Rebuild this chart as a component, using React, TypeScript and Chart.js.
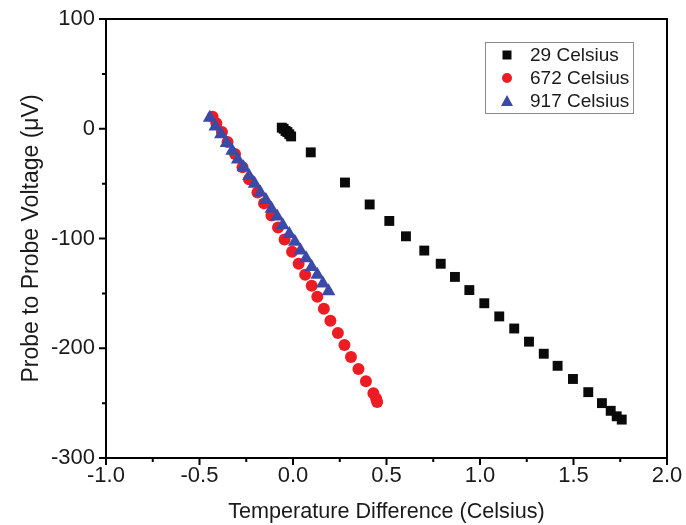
import React, { useEffect, useRef } from "react";
import { Chart, registerables } from "chart.js";

Chart.register(...registerables);

// ---- Data ----
const seriesLabels = ["29 Celsius", "672 Celsius", "917 Celsius"];

const blackX = [-0.06, -0.05, -0.04, -0.03, -0.02, -0.01, 0.095, 0.278, 0.41, 0.515, 0.604, 0.702, 0.79, 0.866, 0.943, 1.023, 1.103, 1.183, 1.262, 1.341, 1.415, 1.497, 1.579, 1.652, 1.699, 1.731, 1.758];
const blackY = [1, 0, -2, -3, -5, -7, -21.5, -49, -69, -84, -98, -111, -123, -135, -147, -159, -171, -182, -194, -205, -216, -228, -240, -250, -257, -262, -265];

const redX = [-0.43, -0.41, -0.38, -0.35, -0.31, -0.27, -0.235, -0.19, -0.155, -0.115, -0.08, -0.045, -0.005, 0.03, 0.065, 0.1, 0.13, 0.165, 0.2, 0.24, 0.275, 0.31, 0.35, 0.39, 0.43, 0.445, 0.45];
const redY = [11, 5, -3, -12, -23, -35, -46, -58, -68, -79, -90, -101, -112, -123, -133, -143, -153, -164, -175, -186, -197, -208, -219, -230, -241, -246, -249];

const blueX = [-0.445, -0.415, -0.385, -0.355, -0.325, -0.295, -0.265, -0.235, -0.205, -0.175, -0.145, -0.115, -0.085, -0.055, -0.02, 0.01, 0.04, 0.07, 0.1, 0.13, 0.16, 0.19];
const blueY = [10, 2, -5, -13, -20, -28, -35, -43, -50, -58, -65, -73, -80, -88, -96, -103, -111, -118, -126, -133, -141, -148];

const xMin = -1.0;
const xMax = 2.0;
const xStep = 0.5;
const yMin = -300;
const yMax = 100;
const yStep = 100;

const xTitle = "Temperature Difference (Celsius)";
const yTitle = "Probe to Probe Voltage (\u03bcV)";

const BLACK = "#0a0a0a";
const RED = "#ec1c24";
const BLUE = "#3a4aa6";

const FONT = '"Liberation Sans", Arial, Helvetica, sans-serif';

function toPoints(xs: number[], ys: number[]) {
  return xs.map((x, i) => ({ x, y: ys[i] }));
}

function drawMarker(ctx: CanvasRenderingContext2D, style: string, x: number, y: number, color: string) {
  ctx.fillStyle = color;
  ctx.beginPath();
  if (style === "rect") {
    ctx.rect(x - 4.5, y - 4.5, 9, 9);
  } else if (style === "circle") {
    ctx.arc(x, y, 5, 0, Math.PI * 2);
  } else {
    ctx.moveTo(x, y - 6);
    ctx.lineTo(x + 6, y + 5);
    ctx.lineTo(x - 6, y + 5);
    ctx.closePath();
  }
  ctx.fill();
}

const framePlugin = {
  id: "frameTicks",
  afterDatasetsDraw(chart: any) {
    const { ctx, chartArea: a, scales } = chart;
    const xs = scales.x;
    const ys = scales.y;
    ctx.save();
    ctx.strokeStyle = "#000";
    ctx.lineWidth = 2;
    ctx.strokeRect(a.left, a.top, a.right - a.left, a.bottom - a.top);

    const xv: number[] = xs.ticks.map((t: any) => t.value);
    const yv: number[] = ys.ticks.map((t: any) => t.value);
    ctx.beginPath();
    xv.forEach((v, i) => {
      const px = xs.getPixelForValue(v);
      ctx.moveTo(px, a.bottom);
      ctx.lineTo(px, a.bottom + 7);
      if (i < xv.length - 1) {
        const pm = xs.getPixelForValue((v + xv[i + 1]) / 2);
        ctx.moveTo(pm, a.bottom);
        ctx.lineTo(pm, a.bottom + 4);
      }
    });
    yv.forEach((v, i) => {
      const py = ys.getPixelForValue(v);
      ctx.moveTo(a.left, py);
      ctx.lineTo(a.left - 7, py);
      if (i < yv.length - 1) {
        const pm = ys.getPixelForValue((v + yv[i + 1]) / 2);
        ctx.moveTo(a.left, pm);
        ctx.lineTo(a.left - 4, pm);
      }
    });
    ctx.stroke();
    ctx.restore();
  },
};

const legendPlugin = {
  id: "insideLegend",
  afterDraw(chart: any) {
    const { ctx, chartArea: a } = chart;
    const boxRight = a.right - 34;
    const boxTop = a.top + 23;
    const boxW = 148;
    const boxH = 71;
    const boxLeft = boxRight - boxW;
    ctx.save();
    ctx.fillStyle = "#fff";
    ctx.fillRect(boxLeft, boxTop, boxW, boxH);
    ctx.strokeStyle = "#8a8a8a";
    ctx.lineWidth = 1;
    ctx.strokeRect(boxLeft + 0.5, boxTop + 0.5, boxW, boxH);
    ctx.font = `19px ${FONT}`;
    ctx.textBaseline = "middle";
    ctx.textAlign = "left";
    chart.data.datasets.forEach((ds: any, i: number) => {
      const cy = boxTop + 13 + i * 23;
      drawMarker(ctx, ds.pointStyle, boxLeft + 22, cy, ds.backgroundColor);
      ctx.fillStyle = "#1a1a1a";
      ctx.fillText(ds.label, boxLeft + 45, cy + 1);
    });
    ctx.restore();
  },
};

export default function App() {
  const ref = useRef<HTMLCanvasElement | null>(null);

  useEffect(() => {
    if (!ref.current) return;
    const chart = new Chart(ref.current, {
      type: "scatter",
      data: {
        datasets: [
          {
            label: seriesLabels[0],
            data: toPoints(blackX, blackY),
            pointStyle: "rect",
            pointRadius: 7,
            backgroundColor: BLACK,
            borderColor: BLACK,
            borderWidth: 0,
            order: 2,
          },
          {
            label: seriesLabels[1],
            data: toPoints(redX, redY),
            pointStyle: "circle",
            pointRadius: 6,
            backgroundColor: RED,
            borderColor: RED,
            borderWidth: 0,
            order: 1,
          },
          {
            label: seriesLabels[2],
            data: toPoints(blueX, blueY),
            pointStyle: "triangle",
            pointRadius: 8,
            backgroundColor: BLUE,
            borderColor: BLUE,
            borderWidth: 0,
            order: 0,
          },
        ],
      },
      options: {
        responsive: false,
        animation: false,
        events: [],
        layout: { padding: { left: 0, top: 19, right: 19, bottom: 0 } },
        plugins: {
          legend: { display: false },
          tooltip: { enabled: false },
        },
        scales: {
          x: {
            type: "linear",
            min: xMin,
            max: xMax,
            grid: { display: false, drawTicks: false },
            border: { display: false },
            ticks: {
              stepSize: xStep,
              padding: 5,
              color: "#1a1a1a",
              font: { family: FONT, size: 22 },
              maxRotation: 0,
              callback: (v: any) => Number(v).toFixed(1),
            },
            title: {
              display: true,
              text: xTitle,
              color: "#1a1a1a",
              font: { family: FONT, size: 21.6 },
              padding: { top: 0, bottom: 0 },
            },
            afterFit: (s: any) => {
              s.height = 67;
              s.paddingLeft = 0;
              s.paddingRight = 0;
            },
          },
          y: {
            type: "linear",
            min: yMin,
            max: yMax,
            grid: { display: false, drawTicks: false },
            border: { display: false },
            ticks: {
              stepSize: yStep,
              padding: 11,
              color: "#1a1a1a",
              font: { family: FONT, size: 22 },
              callback: (v: any) => String(v),
            },
            title: {
              display: true,
              text: yTitle,
              color: "#1a1a1a",
              font: { family: FONT, size: 23 },
              padding: { top: 18, bottom: 0 },
            },
            afterFit: (s: any) => {
              s.width = 106;
              s.paddingTop = 0;
              s.paddingBottom = 0;
            },
          },
        },
      },
      plugins: [framePlugin, legendPlugin],
    });
    return () => chart.destroy();
  }, []);

  return (
    <div style={{ position: "fixed", left: 0, top: 0, width: 686, height: 525, background: "#fff" }}>
      <canvas ref={ref} width={686} height={525} />
    </div>
  );
}
